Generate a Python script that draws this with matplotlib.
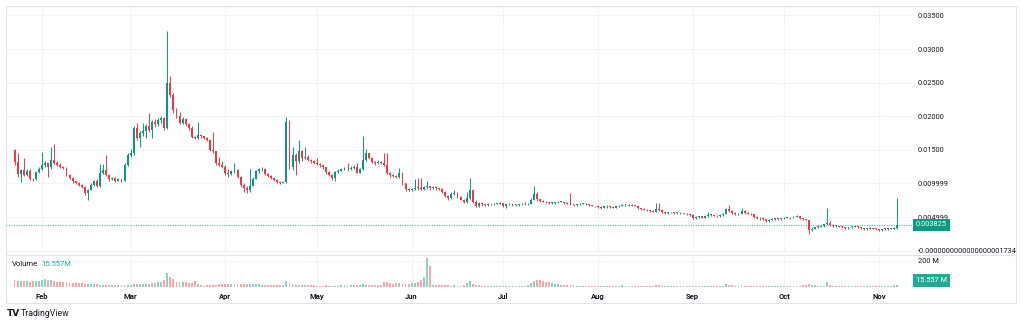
import matplotlib
matplotlib.use("Agg")
import matplotlib.pyplot as plt
import matplotlib.dates as mdates
from matplotlib.lines import Line2D
from matplotlib.patches import Rectangle
from matplotlib.transforms import blended_transform_factory
import numpy as np
import pandas as pd

# ---------------------------------------------------------------- data
START_DATE = "2024-01-23"
PRICE_UNIT = 1e-4          # prices below are given in units of 0.0001

first_open_e4 = 150

close_e4 = [
    132, 114, 120, 113, 119, 107, 106, 117, 122,
    128, 130, 124, 135, 131, 128, 125, 123, 113, 108, 103,
    101, 98, 95, 86, 91, 98, 103, 97, 116, 120,
    113, 106, 108, 104, 106, 104, 128, 143,
    145, 183, 168, 175, 178, 186, 180, 192, 188, 195, 197, 183,
    250, 232, 209, 201, 190, 196, 188, 183, 169, 168,
    172, 170, 168, 165, 150, 148, 130, 128, 125,
    116, 114, 118, 120, 110, 98, 93, 90, 97, 107,
    118, 121, 122, 114, 111, 108, 105, 102, 101, 102,
    192, 125, 142, 134, 148, 138, 140, 135, 133, 131,
    129, 127, 124, 117, 113, 108, 117, 119, 121, 122,
    121, 123, 125, 116, 121, 135, 145, 138, 132, 130, 132, 131,
    128, 116, 113, 111, 110, 116, 100, 92, 91,
    92, 94, 93, 92, 95, 96, 93, 95, 93, 92, 88, 82, 78,
    84, 86, 80, 76, 72, 78, 90,
    73, 67, 71, 69, 68, 70, 69, 70, 70, 71,
    66, 69, 70, 68, 68, 69, 70, 69, 70, 76,
    84, 77, 74, 73, 72, 71, 71, 72, 73, 73,
    71, 70, 69, 68, 69, 70, 70, 69, 68, 67, 66,
    65, 64, 66, 67, 65, 64, 66, 67, 68, 68,
    67, 68, 67, 63, 62, 61, 60, 59, 58,
    62, 61, 57, 56, 57, 57, 56, 56, 55, 55, 54, 53,
    48, 50, 51, 49, 51, 53, 53, 52, 51, 53, 55,
    62, 59, 56, 54, 55, 59, 56, 55, 54, 50, 48, 49, 47,
    44, 46, 47, 48, 47, 48, 49, 49, 48, 50, 51, 48, 47, 46,
    31, 33, 35, 36, 37, 39, 41, 38, 37, 37, 36, 35, 34,
    35, 36, 36, 35, 34, 32, 33, 34, 33, 32,
    31, 32, 33, 32, 33, 34, 38.25,
]

high_e4 = [
    152, 145, 122, 138, 122, 121, 108, 118, 124,
    147, 133, 131, 155, 159, 133, 130, 126, 124, 114, 109,
    104, 102, 99, 96, 92, 100, 105, 106, 129, 129,
    142, 114, 110, 109, 108, 107, 130, 145,
    152, 186, 190, 178, 190, 188, 205, 194, 196, 197, 201, 199,
    327, 260, 235, 213, 206, 199, 198, 190, 185, 171,
    192, 173, 171, 169, 166, 177, 149, 140, 133,
    127, 122, 120, 130, 121, 111, 100, 96, 121, 109,
    120, 123, 124, 123, 115, 112, 109, 106, 103, 104,
    199, 195, 154, 146, 165, 150, 154, 142, 136, 135,
    138, 131, 128, 125, 118, 114, 118, 121, 123, 124,
    130, 126, 128, 130, 123, 170, 152, 146, 139, 134, 135, 134,
    145, 145, 117, 114, 113, 123, 117, 101, 93,
    94, 107, 108, 108, 97, 104, 97, 97, 96, 94, 93, 89, 83,
    88, 90, 87, 81, 77, 88, 108,
    91, 75, 73, 72, 70, 71, 71, 71, 71, 72,
    71, 70, 71, 70, 69, 70, 71, 72, 71, 78,
    96, 87, 77, 75, 74, 73, 72, 73, 74, 74,
    73, 72, 86, 70, 70, 71, 71, 71, 70, 68, 67,
    66, 66, 67, 68, 67, 66, 67, 68, 69, 69,
    69, 69, 68, 67, 64, 63, 62, 61, 60,
    71, 71, 62, 58, 58, 58, 57, 57, 57, 56, 56, 55,
    54, 51, 52, 52, 52, 58, 55, 53, 53, 54, 56,
    64, 68, 60, 57, 56, 64, 60, 57, 56, 54, 51, 50, 50,
    47, 47, 48, 49, 49, 49, 50, 50, 50, 51, 53, 51, 48, 47,
    46, 35, 36, 37, 38, 40, 63, 44, 39, 38, 37, 37, 35,
    36, 37, 37, 37, 36, 34, 34, 35, 34, 34,
    33, 33, 34, 34, 34, 35, 78,
]

low_e4 = [
    128, 110, 102, 111, 111, 105, 104, 105, 116,
    120, 124, 110, 122, 129, 126, 123, 121, 111, 106, 101,
    99, 96, 93, 83, 75, 90, 96, 95, 95, 114,
    111, 104, 105, 102, 104, 102, 103, 126,
    140, 143, 164, 155, 170, 168, 177, 168, 184, 186, 190, 180,
    181, 228, 205, 198, 188, 188, 185, 180, 167, 166,
    166, 168, 166, 163, 148, 146, 128, 126, 123,
    113, 110, 113, 116, 108, 95, 88, 86, 88, 96,
    106, 116, 118, 112, 109, 106, 103, 100, 99, 100,
    100, 122, 120, 113, 131, 134, 136, 133, 131, 129,
    127, 125, 122, 114, 111, 105, 103, 115, 118, 120,
    119, 120, 122, 115, 115, 120, 133, 136, 130, 128, 129, 129,
    126, 114, 110, 109, 108, 108, 98, 89, 89,
    89, 90, 91, 90, 91, 92, 91, 92, 91, 90, 86, 80, 76,
    77, 83, 79, 75, 71, 71, 77,
    71, 65, 65, 67, 66, 67, 68, 68, 69, 69,
    65, 64, 68, 67, 67, 67, 68, 68, 68, 69,
    75, 74, 73, 72, 71, 70, 70, 70, 71, 72,
    70, 69, 68, 67, 67, 68, 69, 68, 67, 66, 65,
    63, 62, 63, 64, 64, 63, 63, 65, 66, 67,
    66, 66, 66, 62, 61, 60, 59, 58, 57,
    57, 59, 56, 55, 55, 56, 55, 55, 54, 54, 53, 52,
    47, 47, 48, 48, 48, 50, 52, 51, 50, 50, 52,
    54, 58, 55, 53, 53, 54, 55, 54, 53, 48, 47, 46, 46,
    43, 43, 45, 46, 46, 46, 47, 48, 47, 48, 50, 47, 46, 45,
    25, 30, 32, 34, 35, 36, 38, 37, 36, 36, 35, 34, 33,
    33, 34, 35, 34, 33, 31, 31, 32, 32, 31,
    30, 30, 31, 31, 32, 32, 33,
]

volume_m = [
    50, 48, 46, 45, 44, 42, 45, 47, 48,
    52, 58, 55, 50, 48, 42, 40, 38, 35, 32, 30, 30, 28, 27, 25, 24, 22, 20, 20,
    18, 17, 16, 15, 14, 14, 13, 14, 15, 16,
    18, 20, 22, 22, 25, 24, 26, 30, 32, 35, 40, 55, 110, 80, 60, 40, 38, 40, 35,
    30, 28, 45, 25, 12, 10, 12, 14, 15, 18, 20, 22,
    22, 24, 25, 24, 23, 25, 24, 22, 22, 21, 20, 20, 19, 18, 18, 17, 17, 16, 16,
    18, 48, 30, 22, 18, 16, 15, 14, 13, 12, 12,
    10, 10, 11, 12, 11, 10, 10, 11, 12, 12, 13, 12, 14, 15, 14, 22, 18, 12, 12,
    13, 12, 14, 42, 38, 30, 25, 28, 30, 22, 24, 20,
    28, 30, 40, 55, 80, 220, 160, 15, 14, 14, 13, 12, 12, 11, 12, 11, 10, 14, 30,
    45, 20, 15, 12, 10, 9, 9, 8, 8, 8, 9,
    9, 8, 8, 8, 9, 9, 10, 10, 12, 30, 45, 55, 50, 45, 40, 35, 30, 25, 20, 15,
    12, 12, 14, 12, 10, 10, 9, 9, 8, 8, 8,
    8, 9, 10, 9, 8, 9, 10, 11, 12, 10, 9, 8, 9, 10, 9, 8, 9, 10, 9, 14,
    12, 9, 8, 8, 7, 8, 8, 7, 8, 8, 9,
    10, 9, 8, 9, 10, 11, 9, 8, 9, 10, 11, 20, 18, 12, 10, 9, 12, 10, 9, 8,
    9, 10, 9, 8, 8, 9, 10, 9, 8, 9,
    9, 8, 9, 10, 9, 10, 12, 14, 25, 18, 12, 10, 10, 11, 40, 16, 10, 9, 8, 8,
    9, 9, 8, 8, 9, 8, 8, 7, 8, 8, 9,
    8, 8, 9, 9, 10, 12, 15.557,
]

price_ticks = [0.035, 0.030, 0.025, 0.020, 0.015, 0.010, 0.005, 0.0]
price_tick_labels = ["0.03500", "0.03000", "0.02500", "0.02000", "0.01500",
                     "0.009999", "0.004999", "-0.0000000000000000001734"]
volume_ticks = [200]
volume_tick_labels = ["200 M"]
month_starts = ["2024-02-01", "2024-03-01", "2024-04-01", "2024-05-01", "2024-06-01",
                "2024-07-01", "2024-08-01", "2024-09-01", "2024-10-01", "2024-11-01"]
last_price_text = "0.003825"
last_volume_text = "15.557 M"
legend_volume_text = "15.557M"

# ---------------------------------------------------------------- style
GREEN = "#089981"
RED = "#F23645"
GREEN_VOL = "#8ed0c5"
RED_VOL = "#f9a3aa"
GRID = "#f0f3fa"
BORDER = "#e0e3eb"
TEXT = "#131722"
TEAL_LABEL = "#22ab94"
FONT = "Roboto"

W, H = 1024, 326


def box(left, top, right, bottom):
    return [left / W, 1 - bottom / H, (right - left) / W, (bottom - top) / H]


close = np.array(close_e4, float) * PRICE_UNIT
high = np.array(high_e4, float) * PRICE_UNIT
low = np.array(low_e4, float) * PRICE_UNIT
opens = np.r_[first_open_e4 * PRICE_UNIT, close[:-1]]
volume = np.array(volume_m, float)

dates = pd.date_range(START_DATE, periods=len(close), freq="D")
x = mdates.date2num(dates)
up = close >= opens
candle_colors = np.where(up, GREEN, RED)
vol_colors = np.where(up, GREEN_VOL, RED_VOL)

fig = plt.figure(figsize=(W / 100, H / 100), dpi=100)
fig.patch.set_facecolor("white")

ax = fig.add_axes(box(6, 6, 912, 253))
axv = fig.add_axes(box(6, 256, 912, 287), sharex=ax)

month_x = mdates.date2num(pd.to_datetime(month_starts))
x_left = month_x[0] - 11.8
x_right = month_x[-1] + 10.8

# candles
ax.vlines(x, low, high, colors=candle_colors, linewidth=0.7, zorder=3)
body_bottom = np.minimum(opens, close)
body_height = np.maximum(np.abs(close - opens), 0.00011)
ax.bar(x, body_height, bottom=body_bottom, width=0.62, color=candle_colors,
       linewidth=0, zorder=4)

ax.set_xlim(x_left, x_right)
ax.set_ylim(-0.000342, 0.03641)
ax.set_yticks(price_ticks)
ax.set_yticklabels(price_tick_labels)
ax.yaxis.tick_right()
ax.tick_params(axis="y", length=0, pad=4, labelsize=5.3, labelcolor=TEXT)
ax.set_xticks(month_x)
ax.tick_params(axis="x", length=0, labelbottom=False)
ax.grid(True, color=GRID, linewidth=0.8, zorder=0)
for s in ax.spines.values():
    s.set_visible(False)
for lbl in ax.get_yticklabels():
    lbl.set_fontfamily(FONT)

# last price line and tag
last_price = close[-1]
ax.axhline(last_price, color=GREEN, linewidth=0.8, linestyle=(0, (1, 1.2)),
           alpha=0.7, zorder=2)
tr = blended_transform_factory(ax.transAxes, ax.transData)
ax.text(1.0 + 4 / 906, last_price, last_price_text, transform=tr,
        ha="left", va="center", fontsize=5.3, color="white", family=FONT,
        bbox=dict(boxstyle="square,pad=0.35", fc=GREEN, ec="none"),
        zorder=10, clip_on=False)

# volume
axv.bar(x, volume, width=0.62, color=vol_colors, linewidth=0, zorder=3)
axv.set_ylim(0, 238)
axv.set_yticks(volume_ticks)
axv.set_yticklabels(volume_tick_labels)
axv.yaxis.tick_right()
axv.tick_params(axis="y", length=0, pad=4, labelsize=5.3, labelcolor=TEXT)
axv.set_xticks(month_x)
axv.xaxis.set_major_formatter(mdates.DateFormatter("%b"))
axv.tick_params(axis="x", length=0, pad=4, labelsize=5.5, labelcolor=TEXT)
axv.grid(True, color=GRID, linewidth=0.8, zorder=0)
for s in axv.spines.values():
    s.set_visible(False)
for lbl in axv.get_xticklabels():
    lbl.set_fontfamily(FONT)
    lbl.set_fontweight("bold")
for lbl in axv.get_yticklabels():
    lbl.set_fontfamily(FONT)

trv = blended_transform_factory(axv.transAxes, axv.transData)
axv.text(1.0 + 4 / 906, 50, last_volume_text, transform=trv,
         ha="left", va="center", fontsize=5.3, color="white", family=FONT,
         bbox=dict(boxstyle="square,pad=0.35", fc=TEAL_LABEL, ec="none"),
         zorder=10, clip_on=False)

# pane legend
fig.text(12 / W, 1 - 264 / H, "Volume", fontsize=5.5, color=TEXT, family=FONT,
         ha="left", va="center")
fig.text(41 / W, 1 - 264 / H, legend_volume_text, fontsize=5.5, color=TEAL_LABEL,
         family=FONT, ha="left", va="center")

# frame and pane separator
fig.add_artist(Rectangle((6 / W, 1 - 303 / H), 1010 / W, 297 / H,
                         transform=fig.transFigure, fill=False, ec=BORDER, lw=0.8))
fig.add_artist(Line2D([6 / W, 1016 / W], [1 - 254.5 / H] * 2,
                      transform=fig.transFigure, color=BORDER, lw=0.8))

# brand mark
fig.text(7 / W, 1 - 313.5 / H, "TV", fontsize=6.5, fontweight="heavy",
         color=TEXT, family="DejaVu Sans", ha="left", va="center")
fig.text(21 / W, 1 - 313.5 / H, "TradingView", fontsize=6.3, color=TEXT,
         family=FONT, ha="left", va="center")

fig.savefig("out.png", dpi=100, facecolor="white")
